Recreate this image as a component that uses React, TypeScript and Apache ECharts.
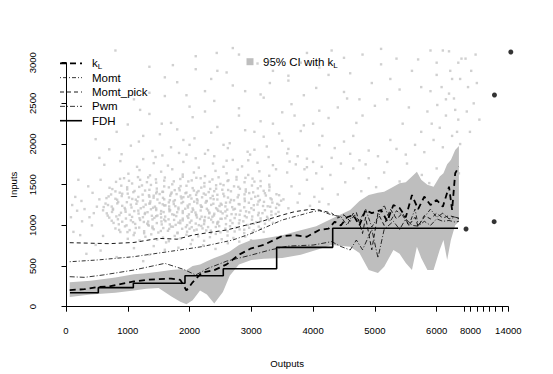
import React, { useEffect, useRef } from "react";
import * as echarts from "echarts";

const FONT = '"Liberation Sans", Arial, Helvetica, sans-serif';

// ---- axis ticks (outputs axis has a compressed break above 7000) ----
const xTickMain = [0, 1000, 2000, 3000, 4000, 5000, 6000];
const xTickBreak = [7000, 8000, 9000, 10000, 11000, 12000, 13000, 14000];
const xLabelBreak = [8000, 14000];
const yTickInterval = 500;

// ---- 95% CI band with kL ----
const ciOutputs = [60, 400, 800, 1100, 1300, 1500, 1700, 1850, 1950, 2050, 2170, 2280, 2400, 2540, 2650, 2800, 3000, 3200, 3500, 3800, 4050, 4300, 4600, 4750, 4900, 5050, 5150, 5300, 5400, 5500, 5600, 5680, 5750, 5850, 5950, 6050, 6110, 6170, 6230, 6300, 6360];
const ciLower = [120, 150, 170, 200, 220, 230, 130, 60, 30, 80, 200, 150, 40, 180, 380, 520, 575, 590, 600, 640, 697, 758, 738, 660, 450, 414, 492, 697, 650, 537, 451, 738, 600, 451, 451, 700, 820, 574, 820, 1000, 1045];
const ciUpper = [300, 320, 360, 400, 410, 430, 450, 460, 450, 500, 520, 560, 600, 640, 680, 760, 820, 840, 880, 940, 990, 1080, 1189, 1300, 1373, 1400, 1414, 1475, 1517, 1530, 1600, 1660, 1560, 1500, 1475, 1600, 1640, 1750, 1804, 1927, 1976];

// ---- estimator lines [output, input] ----
const kL = [[60, 205], [300, 215], [500, 240], [700, 250], [900, 280], [1100, 310], [1300, 330], [1500, 340], [1700, 345], [1850, 330], [1950, 200], [2050, 300], [2200, 420], [2400, 450], [2600, 520], [2800, 640], [3000, 718], [3200, 760], [3500, 869], [3700, 880], [3900, 860], [4100, 943], [4250, 960], [4350, 1045], [4450, 1000], [4550, 1100], [4650, 1127], [4750, 1000], [4850, 1189], [4950, 1150], [5100, 1189], [5200, 1050], [5300, 1250], [5400, 1214], [5500, 1100], [5600, 1373], [5700, 1200], [5800, 1353], [5900, 1250], [6000, 1312], [6100, 1230], [6200, 1475], [6250, 1189], [6300, 1640], [6360, 1721]];
const momt = [[60, 553], [500, 574], [1100, 615], [1650, 676], [2200, 738], [2700, 820], [3000, 900], [3500, 1066], [4000, 1170], [4100, 1180], [4300, 1130], [4450, 1107], [4550, 1000], [4650, 1150], [4750, 1050], [4850, 1200], [4950, 980], [5050, 1100], [5150, 1250], [5250, 1050], [5350, 1180], [5450, 1120], [5550, 1000], [5650, 1200], [5700, 1000], [5800, 1100], [5900, 1200], [6000, 1100], [6100, 1150], [6200, 1080], [6300, 1100], [6360, 1090]];
const momtPick = [[60, 787], [700, 775], [1100, 790], [1500, 840], [1800, 830], [2050, 880], [2300, 910], [2600, 943], [2900, 1000], [3150, 1045], [3500, 1127], [3700, 1168], [3950, 1197], [4100, 1189], [4300, 1150], [4400, 1090], [4500, 1130], [4600, 1050], [4700, 1160], [4800, 900], [4850, 1100], [4950, 700], [5050, 1150], [5150, 1000], [5250, 1200], [5350, 1080], [5450, 1150], [5550, 1000], [5650, 1100], [5700, 985], [5800, 1120], [5900, 1080], [6000, 1150], [6100, 1090], [6200, 1120], [6300, 1100], [6360, 1080]];
const pwm = [[60, 369], [300, 361], [600, 390], [1100, 451], [1600, 533], [1900, 460], [2100, 390], [2300, 472], [2600, 560], [3000, 635], [3300, 697], [3600, 746], [4000, 758], [4300, 800], [4450, 740], [4600, 697], [4700, 820], [4800, 700], [4950, 950], [5050, 600], [5150, 950], [5300, 1050], [5400, 950], [5500, 1080], [5600, 1000], [5700, 990], [5800, 1050], [5900, 1000], [6000, 1080], [6100, 1050], [6200, 1060], [6300, 1040], [6360, 1050]];
const fdh = [[65, 172], [523, 234], [1090, 288], [1926, 381], [2546, 466], [3410, 730], [4317, 964], [6345, 964]];

// ---- isolated large units ----
const outliers = [[7280, 955], [11750, 1045], [11800, 2603], [14400, 3132]];

// ---- observed units (gray cloud) ----
const cloudCore = [
  [1010, 1635], [1190, 1680], [1360, 1615], [1540, 1660], [1720, 1690], [1890, 1625], [2070, 1650], [2250, 1605], [2420, 1670], [2600, 1640], [2780, 1685], [2950, 1620], [3130, 1665], [3290, 1610],
  [810, 1535], [940, 1580], [1070, 1515], [1200, 1560], [1330, 1590], [1460, 1525], [1590, 1550], [1720, 1505], [1850, 1570], [1980, 1540], [2110, 1585], [2240, 1520], [2370, 1565], [2500, 1510], [2630, 1555], [2760, 1595], [2890, 1530], [3020, 1575], [3150, 1545], [3290, 1500],
  [705, 1462], [800, 1418], [895, 1488], [990, 1442], [1090, 1408], [1185, 1473], [1280, 1428], [1375, 1497], [1470, 1452], [1570, 1412], [1665, 1467], [1760, 1433], [1855, 1483], [1950, 1403], [2050, 1458], [2145, 1422], [2240, 1478], [2335, 1448], [2430, 1493], [2530, 1438], [2625, 1435], [2720, 1480], [2815, 1450], [2910, 1415], [3010, 1490], [3105, 1455], [3200, 1425], [3295, 1470],
  [655, 1335], [730, 1380], [828, 1315], [902, 1360], [999, 1390], [1073, 1325], [1171, 1350], [1246, 1305], [1343, 1370], [1418, 1340], [1515, 1385], [1590, 1320], [1687, 1365], [1762, 1310], [1859, 1355], [1934, 1395], [2031, 1330], [2106, 1375], [2203, 1345], [2278, 1300], [2375, 1362], [2450, 1318], [2547, 1388], [2622, 1342], [2719, 1308], [2794, 1373], [2891, 1328], [2966, 1397], [3063, 1352], [3138, 1312], [3235, 1367], [3310, 1333], [3407, 1383], [3482, 1303],
  [610, 1225], [680, 1250], [760, 1205], [830, 1270], [910, 1240], [985, 1285], [1060, 1220], [1140, 1265], [1210, 1210], [1290, 1255], [1365, 1295], [1440, 1230], [1515, 1275], [1590, 1245], [1670, 1200], [1745, 1262], [1820, 1218], [1895, 1288], [1970, 1242], [2050, 1208], [2125, 1273], [2200, 1228], [2275, 1297], [2350, 1252], [2430, 1212], [2505, 1267], [2580, 1233], [2655, 1283], [2735, 1203], [2810, 1258], [2885, 1222], [2960, 1278], [3040, 1248], [3115, 1293], [3190, 1238], [3265, 1235], [3340, 1280], [3400, 1215],
  [600, 1185], [675, 1120], [745, 1165], [815, 1110], [890, 1155], [960, 1195], [1030, 1130], [1105, 1175], [1175, 1145], [1245, 1100], [1320, 1162], [1390, 1118], [1460, 1188], [1535, 1142], [1605, 1108], [1675, 1173], [1750, 1128], [1820, 1197], [1890, 1152], [1965, 1112], [2035, 1167], [2105, 1133], [2180, 1183], [2250, 1103], [2320, 1158], [2395, 1122], [2465, 1178], [2535, 1148], [2610, 1193], [2680, 1138], [2750, 1135], [2825, 1180], [2895, 1115], [2965, 1160], [3040, 1190], [3110, 1125], [3180, 1150], [3255, 1105], [3325, 1170], [3395, 1140],
  [700, 1095], [770, 1030], [840, 1075], [910, 1045], [980, 1000], [1050, 1062], [1120, 1018], [1190, 1088], [1260, 1042], [1330, 1008], [1400, 1073], [1470, 1028], [1540, 1097], [1610, 1052], [1680, 1012], [1750, 1067], [1820, 1033], [1890, 1083], [1960, 1003], [2030, 1058], [2100, 1022], [2170, 1078], [2240, 1048], [2310, 1093], [2380, 1038], [2450, 1035], [2520, 1080], [2590, 1015], [2660, 1060], [2730, 1090], [2800, 1025], [2870, 1050], [2940, 1005], [3010, 1070], [3080, 1040], [3150, 1085], [3220, 1020], [3290, 1065],
  [800, 962], [880, 918], [955, 988], [1030, 942], [1110, 908], [1185, 973], [1265, 928], [1340, 997], [1420, 952], [1495, 912], [1575, 967], [1650, 933], [1730, 983], [1805, 903], [1880, 958], [1960, 922], [2035, 978], [2115, 948], [2190, 993], [2270, 938], [2345, 935], [2425, 980], [2500, 915], [2580, 960], [2655, 990], [2730, 925], [2810, 950], [2885, 905], [2965, 970], [3040, 940], [3120, 985], [3200, 920],
  [1000, 835], [1095, 880], [1190, 815], [1285, 860], [1380, 890], [1475, 825], [1570, 850], [1665, 805], [1760, 870], [1855, 840], [1950, 885], [2045, 820], [2140, 865], [2235, 810], [2330, 855], [2425, 895], [2520, 830], [2615, 875], [2710, 845], [2805, 800], [2900, 862], [2995, 818],
  [1420, 745], [1620, 790], [1820, 725], [2020, 770], [2220, 755], [2420, 710], [2620, 780], [2820, 735],
  [560, 690], [820, 610], [1100, 720], [1350, 640], [1600, 700], [1250, 560],
];
const cloudCore2 = [
  [875, 1572], [1020, 1548], [1165, 1593], [1310, 1531], [1455, 1566], [1600, 1588], [1745, 1541], [1890, 1597], [2035, 1553], [2180, 1579], [2325, 1536], [2470, 1591], [2615, 1545], [2760, 1563], [2905, 1584], [3050, 1538],
  [750, 1446], [870, 1402], [990, 1468], [1110, 1423], [1230, 1491], [1350, 1437], [1470, 1415], [1590, 1479], [1710, 1404], [1830, 1456], [1950, 1487], [2070, 1428], [2190, 1464], [2310, 1409], [2430, 1451], [2550, 1495], [2670, 1419], [2790, 1473], [2910, 1442], [3030, 1406], [3150, 1482], [3290, 1430],
  [690, 1356], [800, 1327], [910, 1389], [1020, 1343], [1130, 1316], [1240, 1378], [1350, 1352], [1460, 1394], [1570, 1338], [1680, 1310], [1790, 1384], [1900, 1347], [2010, 1369], [2120, 1322], [2230, 1391], [2340, 1334], [2450, 1376], [2560, 1358], [2670, 1313], [2780, 1345], [2890, 1381], [3000, 1326], [3110, 1362], [3220, 1395], [3330, 1318], [3450, 1371],
  [640, 1268], [740, 1231], [845, 1287], [950, 1214], [1050, 1254], [1155, 1296], [1255, 1226], [1360, 1271], [1460, 1208], [1565, 1259], [1665, 1283], [1770, 1236], [1870, 1274], [1975, 1219], [2075, 1291], [2180, 1247], [2280, 1204], [2385, 1266], [2485, 1238], [2590, 1279], [2690, 1224], [2795, 1262], [2895, 1298], [3000, 1211], [3100, 1256], [3205, 1289], [3305, 1229], [3420, 1264],
  [660, 1148], [760, 1192], [865, 1126], [965, 1167], [1070, 1104], [1170, 1181], [1275, 1139], [1375, 1198], [1480, 1121], [1580, 1163], [1685, 1187], [1785, 1114], [1890, 1176], [1990, 1135], [2095, 1158], [2195, 1107], [2300, 1184], [2400, 1143], [2505, 1169], [2605, 1117], [2710, 1195], [2810, 1131], [2915, 1172], [3015, 1109], [3120, 1154], [3220, 1186], [3325, 1127], [3440, 1165],
  [740, 1057], [855, 1013], [970, 1084], [1085, 1039], [1200, 1066], [1315, 1021], [1430, 1092], [1545, 1048], [1660, 1074], [1775, 1006], [1890, 1061], [2005, 1035], [2120, 1097], [2235, 1016], [2350, 1071], [2465, 1044], [2580, 1087], [2695, 1028], [2810, 1063], [2925, 1099], [3040, 1019], [3155, 1054], [3270, 1082], [3350, 1031],
  [860, 944], [995, 917], [1130, 968], [1265, 903], [1400, 986], [1535, 931], [1670, 957], [1805, 912], [1940, 979], [2075, 938], [2210, 963], [2345, 906], [2480, 991], [2615, 927], [2750, 972], [2885, 946], [3020, 915], [3155, 959],
];
const cloudCenter = [
  [1330, 1047], [1460, 1113], [1590, 1071], [1720, 1136], [1850, 1058], [1980, 1092], [2110, 1124], [2240, 1065], [2370, 1106], [2500, 1081],
  [1280, 1153], [1410, 1217], [1540, 1176], [1670, 1232], [1800, 1161], [1930, 1204], [2060, 1189], [2190, 1227], [2320, 1148], [2450, 1196], [2580, 1171],
  [1350, 1267], [1480, 1318], [1610, 1246], [1740, 1293], [1870, 1331], [2000, 1259], [2130, 1305], [2260, 1279], [2390, 1322], [2520, 1254],
  [1420, 1365], [1560, 1412], [1700, 1388], [1840, 1431], [1980, 1352], [2120, 1404], [2260, 1377], [2400, 1420],
  [1400, 966], [1550, 1012], [1700, 985], [1850, 1027], [2000, 958], [2150, 1003], [2300, 979], [2450, 1018],
];
const cloudUpper = [
  [620, 1745], [880, 1790], [1150, 1720], [1420, 1765], [1650, 1735], [1900, 1780], [2150, 1710], [2380, 1760], [2600, 1795], [2850, 1725], [3100, 1770], [3350, 1740], [3620, 1785], [3900, 1715],
  [540, 1830], [900, 1875], [1250, 1815], [1560, 1860], [1830, 1890], [2100, 1825], [2400, 1850], [2700, 1805], [2980, 1870], [3280, 1840], [3580, 1885], [3900, 1820],
  [700, 1935], [1050, 1980], [1400, 1915], [1700, 1960], [2000, 1990], [2300, 1925], [2620, 1950], [2940, 1905], [3250, 1970], [3600, 1940], [4100, 1985],
  [480, 2060], [820, 2150], [1180, 2030], [1520, 2120], [1800, 2180], [2080, 2070], [2350, 2140], [2650, 2010], [2900, 2170], [3200, 2090], [3500, 2040], [3800, 2160], [4150, 2100], [4500, 2030],
  [1000, 2240], [1350, 2370], [1700, 2260], [2050, 2330], [2450, 2210], [2800, 2350], [3150, 2280], [3500, 2390], [3850, 2230], [4250, 2320], [4700, 2260],
  [1200, 2420], [1600, 2590], [2000, 2460], [2400, 2530], [2800, 2440], [3200, 2570], [3650, 2490], [4100, 2410], [4550, 2560], [5000, 2470],
  [1350, 2630], [1800, 2760], [2250, 2650], [2700, 2720], [3150, 2610], [3600, 2780], [4050, 2690], [4500, 2640], [4950, 2750], [5400, 2670],
  [1600, 2820], [2100, 2920], [2600, 2880], [3100, 2990], [3600, 2840], [4100, 2940], [4600, 2870], [5100, 2980], [5600, 2900],
  [1730, 2970], [2440, 3120], [2100, 3080], [2700, 3180], [3300, 3020], [3900, 3120], [4500, 3060], [5100, 3170], [5700, 3040], [6200, 3140],
];
const cloudUpper2 = [
  [2550, 1720], [2950, 1800], [3400, 1690], [3750, 1850], [4050, 1640], [4350, 1950], [4650, 2100], [4850, 1750], [5250, 2050], [5450, 2250], [5750, 2150], [5850, 2400], [6150, 2550], [6350, 2300],
  [3050, 2150], [3350, 2250], [3700, 2350], [4000, 2250], [4400, 2450], [4800, 2350], [5200, 2550], [5550, 2450], [5900, 2650], [6250, 2800],
  [2900, 2650], [3300, 2750], [3850, 2600], [4250, 2850], [4750, 2550], [5250, 2800], [5750, 2700], [6000, 2850], [6350, 3000],
  [2450, 2900], [3350, 2900], [3800, 3000], [4300, 3150], [4800, 3100], [5350, 3050], [5900, 3150],
  [1250, 2100], [1550, 2250], [1900, 2050], [2250, 2400], [1100, 2550], [1950, 2600], [2350, 2800], [1350, 2950], [800, 3150], [2800, 3100],
  [2250, 1880], [2550, 1990], [1450, 1840], [1950, 1870], [3050, 1930], [3450, 2130],
];
const cloudRight = [
  [3520, 1320], [3650, 1480], [3780, 1390], [3900, 1560], [4020, 1350], [4150, 1450], [4280, 1620], [4400, 1380], [4520, 1530], [4650, 1700], [4780, 1420], [4900, 1580], [5020, 1470], [5150, 1650], [5280, 1390], [5400, 1540], [5520, 1760], [5640, 1450], [5760, 1620], [5880, 1520], [6000, 1700], [6120, 1580], [6240, 1780], [6360, 1640],
  [3580, 1650], [3720, 1750], [3860, 1690], [4000, 1780], [4140, 1720], [4300, 1830], [4450, 1760], [4600, 1880], [4750, 1800], [4900, 1920], [5050, 1850], [5200, 1780], [5350, 1940], [5500, 1870], [5650, 1990], [5800, 1900], [5950, 2050], [6100, 1960], [6250, 2100], [6380, 2000],
  [3450, 1250], [3600, 1210], [3750, 1280], [3950, 1240], [4100, 1290], [4250, 1260],
  [5920, 2250], [6010, 2480], [6080, 2700], [6150, 2350], [6220, 2900], [6280, 2560], [6330, 2150], [6380, 2800], [6420, 3050], [6000, 3000], [6100, 3150], [6300, 2420], [6200, 2620], [6050, 2200],
  [7200, 3050], [7600, 2700], [8100, 2900], [8500, 2500], [9000, 2750], [9400, 2300], [7900, 2150], [8800, 3100], [7400, 2400],
];
const cloudLeft = [[80, 1100], [150, 1350], [230, 880], [300, 1200], [360, 1480], [420, 1000], [480, 760], [540, 1320], [200, 1560], [120, 920], [330, 650], [600, 870], [450, 1150], [260, 1050], [560, 1560], [100, 1250], [180, 1180], [250, 1300], [380, 1100], [500, 1230], [430, 1400]];

// legend entries
const legendNames = ["kL", "Momt", "Momt_pick", "Pwm", "FDH"];
const ciLegendName = "95% CI with kL";

// piecewise-linear outputs axis with a compressed break region
function toAxis(out: number): number {
  if (out <= 6400) return out;
  if (out <= 7000) return 6400 + (out - 6400) * (47 / 600);
  return 6447 + (out - 7000) * 0.1018;
}
const X_MAX = toAxis(14000);

const tr = (pts: number[][]) => pts.map(([x, y]) => [toAxis(x), y]);

const STYLES: Record<string, { width: number; dash: number[] | null }> = {
  kL: { width: 1.8, dash: [6, 4] },
  Momt: { width: 0.8, dash: [1, 2, 4, 2] },
  Momt_pick: { width: 0.9, dash: [4, 3] },
  Pwm: { width: 0.8, dash: [5, 2, 1, 2] },
  FDH: { width: 1.6, dash: null },
};

export default function App() {
  const ref = useRef<HTMLDivElement>(null);
  useEffect(() => {
    if (!ref.current) return;
    const chart = echarts.init(ref.current, null, { renderer: "svg" });

    const labelMap = new Map<number, string>();
    xTickMain.forEach((v) => labelMap.set(Math.round(toAxis(v)), String(v)));
    xLabelBreak.forEach((v) => labelMap.set(Math.round(toAxis(v)), String(v)));

    const cloud = tr([...cloudCore, ...cloudCore2, ...cloudCenter, ...cloudUpper, ...cloudUpper2, ...cloudRight, ...cloudLeft]);

    const rich = {
      n: { fontSize: 11.5, fontFamily: FONT, fill: "#000", color: "#000", lineHeight: 14 },
      s: { fontSize: 8, fontFamily: FONT, fill: "#000", color: "#000", lineHeight: 8, padding: [7, 0, 0, 0] },
    };

    const legendGraphics: any[] = [];
    legendNames.forEach((name, i) => {
      const cy = 63.3 + i * 14.35;
      const st = STYLES[name];
      legendGraphics.push({
        type: "line",
        shape: { x1: 60, y1: cy, x2: 82, y2: cy },
        style: { stroke: "#000", lineWidth: st.width, lineDash: st.dash || undefined },
        silent: true,
      });
      legendGraphics.push({
        type: "text",
        x: 92,
        y: cy,
        style: {
          text: name === "kL" ? "{n|k}{s|L}" : name,
          font: `11.5px ${FONT}`,
          fill: "#000",
          verticalAlign: "middle",
          align: "left",
          rich,
        },
        silent: true,
      });
    });
    legendGraphics.push({
      type: "rect",
      shape: { x: 246.5, y: 58.2, width: 7, height: 7 },
      style: { fill: "#bebebe" },
      silent: true,
    });
    legendGraphics.push({
      type: "text",
      x: 263,
      y: 61.7,
      style: {
        text: "{n|" + ciLegendName.slice(0, -1) + "}{s|" + ciLegendName.slice(-1) + "}",
        font: `11.5px ${FONT}`,
        fill: "#000",
        verticalAlign: "middle",
        align: "left",
        rich,
      },
      silent: true,
    });

    const lineSeries = (name: string, pts: number[][], extra: any = {}) => ({
      type: "line",
      name,
      data: tr(pts),
      symbol: "none",
      showSymbol: false,
      silent: true,
      z: 3,
      itemStyle: { color: "#000" },
      lineStyle: { color: "#000", width: STYLES[name].width, type: STYLES[name].dash || "solid" },
      ...extra,
    });

    chart.setOption({
      animation: false,
      backgroundColor: "#fff",
      textStyle: { fontFamily: FONT },
      grid: { left: 66, right: 553 - 508.3, top: 62.7, bottom: 374 - 306.7, containLabel: false },
      graphic: legendGraphics,
      xAxis: {
        type: "value",
        min: 0,
        max: X_MAX,
        offset: 6.6,
        name: "Outputs",
        nameLocation: "middle",
        nameGap: 45,
        nameTextStyle: { fontSize: 9.6, color: "#000", fontFamily: FONT },
        splitLine: { show: false },
        axisLine: { show: true, lineStyle: { color: "#000", width: 1 } },
        axisTick: {
          show: true,
          length: 5,
          lineStyle: { color: "#000", width: 1 },
          customValues: [...xTickMain, ...xTickBreak].map(toAxis),
        },
        axisLabel: {
          fontSize: 9.5,
          color: "#000",
          fontFamily: FONT,
          margin: 12,
          customValues: [...xTickMain, ...xLabelBreak].map(toAxis),
          formatter: (v: number) => labelMap.get(Math.round(v)) ?? "",
        },
      },
      yAxis: {
        type: "value",
        min: 0,
        max: 3000,
        interval: yTickInterval,
        offset: 16.7,
        name: "Inputs",
        nameLocation: "middle",
        nameGap: 31,
        nameRotate: 90,
        nameTextStyle: { fontSize: 9.6, color: "#000", fontFamily: FONT },
        splitLine: { show: false },
        axisLine: { show: true, lineStyle: { color: "#000", width: 1 } },
        axisTick: { show: true, length: 4.5, lineStyle: { color: "#000", width: 1 } },
        axisLabel: { rotate: 90, fontSize: 9.5, color: "#000", fontFamily: FONT, margin: 12, formatter: (v: number) => String(v) },
      },
      series: [
        {
          name: "cloud",
          type: "scatter",
          data: cloud,
          symbol: "rect",
          symbolSize: 2.4,
          itemStyle: { color: "#c4c4c4" },
          clip: false,
          silent: true,
          z: 1,
        },
        {
          name: ciLegendName,
          type: "custom",
          silent: true,
          z: 2,
          data: [0],
          renderItem: (_params: any, api: any) => {
            const upper = ciOutputs.map((o, i) => api.coord([toAxis(o), ciUpper[i]]));
            const lower = ciOutputs.map((o, i) => api.coord([toAxis(o), ciLower[i]])).reverse();
            return {
              type: "polygon",
              shape: { points: [...upper, ...lower] },
              style: { fill: "#bebebe", stroke: "none" },
            };
          },
        },
        lineSeries("Momt_pick", momtPick),
        lineSeries("Momt", momt),
        lineSeries("Pwm", pwm),
        lineSeries("kL", kL),
        lineSeries("FDH", fdh, { step: "end" }),
        {
          name: "outliers",
          type: "scatter",
          data: tr(outliers),
          symbol: "circle",
          symbolSize: 5,
          itemStyle: { color: "#000" },
          clip: false,
          silent: true,
          z: 5,
        },
      ],
    });
    return () => chart.dispose();
  }, []);
  return <div ref={ref} style={{ position: "absolute", left: 0, top: 0, width: 553, height: 374 }} />;
}
